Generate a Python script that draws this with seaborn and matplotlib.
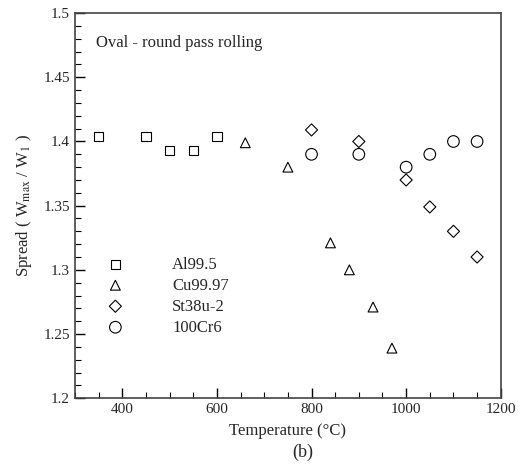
import matplotlib
matplotlib.use("Agg")
import matplotlib.pyplot as plt
import seaborn as sns
import pandas as pd
from matplotlib.ticker import MultipleLocator

sns.set_theme(style="ticks")
plt.rcParams['font.family'] = ['Liberation Serif', 'DejaVu Serif']
plt.rcParams['mathtext.fontset'] = 'stix'

al_T = [350, 450, 500, 550, 600]
al_S = [1.404, 1.404, 1.393, 1.393, 1.404]
cu_T = [660, 750, 840, 880, 930, 970]
cu_S = [1.399, 1.380, 1.321, 1.300, 1.271, 1.239]
st_T = [800, 900, 1000, 1050, 1100, 1150]
st_S = [1.409, 1.400, 1.370, 1.349, 1.330, 1.310]
cr_T = [800, 900, 1000, 1050, 1100, 1150]
cr_S = [1.390, 1.390, 1.380, 1.390, 1.400, 1.400]

series = [("Al99.5", al_T, al_S, "s", 45),
          ("Cu99.97", cu_T, cu_S, "^", 50),
          ("St38u-2", st_T, st_S, "D", 38),
          ("100Cr6", cr_T, cr_S, "o", 70)]

fig = plt.figure(figsize=(5.26, 4.69), dpi=100)
ax = fig.add_axes([0.1426, 0.151, 0.8094, 0.821])

for name, T, S, m, s in series:
    df = pd.DataFrame({"T": T, "S": S})
    sns.scatterplot(data=df, x="T", y="S", marker=m, s=s, ax=ax,
                    facecolor="none", edgecolor="black", linewidth=0.8,
                    label=name)

ax.set_xlim(300, 1200)
ax.set_ylim(1.2, 1.5)
ax.xaxis.set_major_locator(MultipleLocator(200))
ax.xaxis.set_minor_locator(MultipleLocator(50))
ax.yaxis.set_major_locator(MultipleLocator(0.05))
ax.yaxis.set_minor_locator(MultipleLocator(0.01))
ax.set_xticks([400, 600, 800, 1000, 1200])
ax.set_yticks([1.2, 1.25, 1.3, 1.35, 1.4, 1.45, 1.5])
ax.set_yticklabels(["1.2", "1.25", "1.3", "1.35", "1.4", "1.45", "1.5"])
ax.tick_params(which="major", direction="in", length=7, width=1, labelsize=11, color="black")
ax.tick_params(which="minor", direction="in", length=4, width=0.8, color="black")
for sp in ax.spines.values():
    sp.set_color("#444444")
    sp.set_linewidth(1.2)

ax.set_xlabel("Temperature (°C)", fontsize=12, labelpad=5)
ax.set_ylabel(r"Spread ( W$_{\rm max}$ / W$_1$ )", fontsize=12, labelpad=7)

ax.text(0.05, 0.922, "Oval - round pass rolling", transform=ax.transAxes,
        fontsize=12, va="center", ha="left")

ax.legend(loc="upper left", bbox_to_anchor=(0.04, 0.385), frameon=False,
          fontsize=12, handletextpad=2.4, labelspacing=0.3, borderaxespad=0)

fig.text(0.575, 0.035, "(b)", ha="center", va="center", fontsize=13)

fig.savefig("out.png", dpi=100)
